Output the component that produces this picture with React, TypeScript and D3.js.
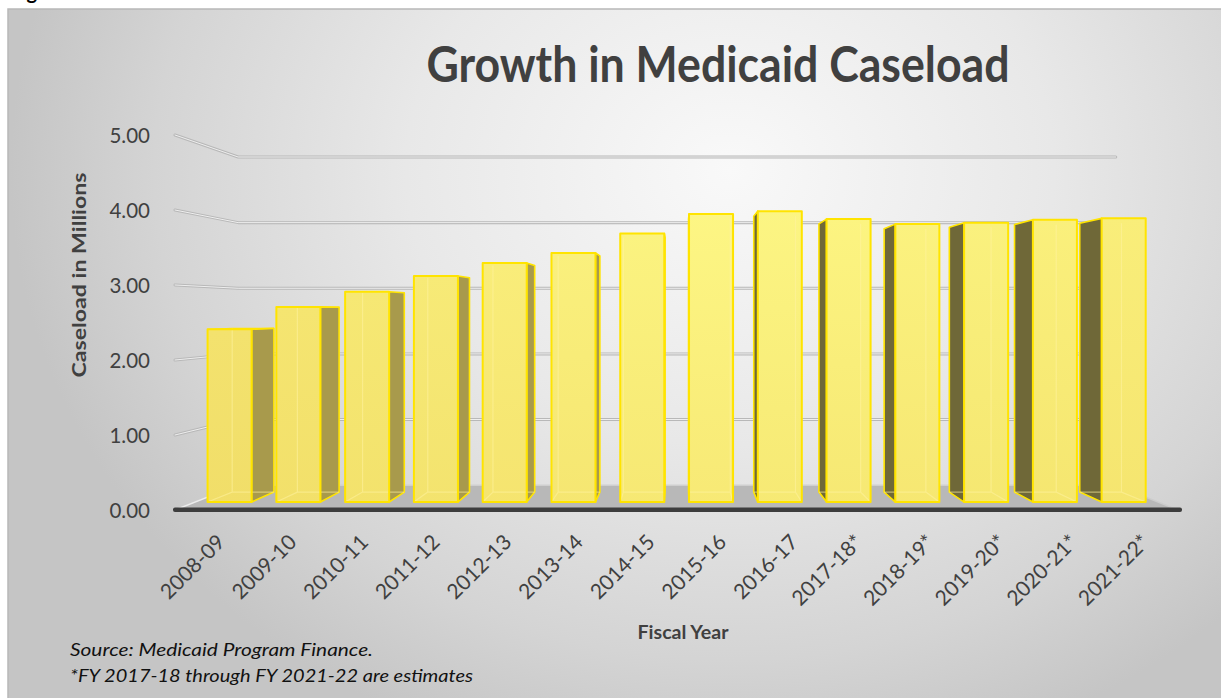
import React from 'react';
import * as d3 from 'd3';

const categories = ['2008-09', '2009-10', '2010-11', '2011-12', '2012-13', '2013-14', '2014-15', '2015-16', '2016-17', '2017-18*', '2018-19*', '2019-20*', '2020-21*', '2021-22*'];
const caseload = [2.40, 2.71, 2.92, 3.14, 3.32, 3.46, 3.73, 4.00, 4.04, 3.93, 3.86, 3.88, 3.92, 3.94];
const yTicks = [0, 1, 2, 3, 4, 5];
const title = 'Growth in Medicaid Caseload';
const yTitle = 'Caseload in Millions';
const xTitle = 'Fiscal Year';
const notes = ['Source: Medicaid Program Finance.', '*FY 2017-18 through FY 2021-22 are estimates'];

const W = 1221;
const H = 698;
const VX = 680;
const VY = 311;
const S_BACK = 0.875;
const S_BAR_F = 0.96;
const S_BAR_B = 0.91;

const x = d3.scaleBand<string>().domain(categories).range([175, 1178]).paddingInner(0.36).paddingOuter(0.18);
const y = d3.scaleLinear().domain([0, 5]).range([510, 135]);

const proj = (X: number, Y: number, s: number): [number, number] => [VX + s * (X - VX), VY + s * (Y - VY)];
const pts = (arr: [number, number][]) => arr.map(p => p[0].toFixed(2) + ',' + p[1].toFixed(2)).join(' ');

export default function App() {
  const X0 = 175, X1 = 1178, Y0 = y(0);
  const floor = [proj(X0, Y0, 1), proj(X1, Y0, 1), proj(X1, Y0, S_BACK), proj(X0, Y0, S_BACK)];
  const bw = x.bandwidth();
  const font = 'Lato, "Open Sans", sans-serif';

  return (
    <svg width={W} height={H} style={{ position: 'absolute', left: 0, top: 0 }} fontFamily={font}>
      <defs>
        <radialGradient id="bg" gradientUnits="userSpaceOnUse" cx={730} cy={170} r={720} gradientTransform="translate(730 170) scale(1 0.85) translate(-730 -170)">
          <stop offset="0" stopColor="#f9f9f9" />
          <stop offset="0.45" stopColor="#e8e8e8" />
          <stop offset="0.8" stopColor="#d4d4d4" />
          <stop offset="1" stopColor="#c5c5c5" />
        </radialGradient>
        {caseload.map((v, i) => {
          const c = categories[i];
          const cx = (x(c) as number) + bw / 2;
          const t = Math.min(1, Math.abs(cx - VX) / 480);
          const top = cx < VX ? d3.interpolateRgb('#fcf482', '#f3e26e')(t) : d3.interpolateRgb('#fdf785', '#f9ee7a')(t);
          const bot = d3.interpolateRgb(top, '#efda62')(0.45);
          return (
            <linearGradient key={c} id={'bar' + i} gradientUnits="userSpaceOnUse" x1={0} y1={y(v)} x2={0} y2={Y0}>
              <stop offset="0" stopColor={top} />
              <stop offset="1" stopColor={bot} />
            </linearGradient>
          );
        })}
      </defs>

      <text x={10} y={-1} fontSize={20} fontWeight="bold" fill="#000">Figure</text>
      <rect x={8} y={9} width={W} height={H} fill="url(#bg)" stroke="#b8b8b8" strokeWidth={1.5} />

      {/* floor */}
      <polygon points={pts(floor)} fill="#b8b8b8" />
      <line x1={floor[3][0]} y1={floor[3][1]} x2={floor[2][0]} y2={floor[2][1]} stroke="#cfcfcf" strokeWidth={1.5} />
      <line x1={floor[0][0]} y1={floor[0][1]} x2={floor[3][0]} y2={floor[3][1]} stroke="#ececec" strokeWidth={1.5} />
      <line x1={floor[1][0]} y1={floor[1][1]} x2={floor[2][0]} y2={floor[2][1]} stroke="#cccccc" strokeWidth={1.5} />

      {/* gridlines on back and left walls */}
      {yTicks.filter(v => v > 0).map(v => {
        const a = proj(X0, y(v), 1);
        const b = proj(X0, y(v), S_BACK);
        const c = proj(X1, y(v), S_BACK);
        const d = `M${a[0]},${a[1]}L${b[0]},${b[1]}L${c[0]},${c[1]}`;
        return (
          <g key={v}>
            <path d={d} fill="none" stroke="#b8b8b8" strokeWidth={3} strokeLinejoin="round" strokeLinecap="round" />
            <path d={d} fill="none" stroke="#eeeeee" strokeWidth={1} strokeLinejoin="round" strokeLinecap="round" />
          </g>
        );
      })}

      {/* bars */}
      {caseload.map((v, i) => {
        const c = categories[i];
        const bx0 = x(c) as number;
        const bx1 = bx0 + bw;
        const cx = bx0 + bw / 2;
        const yt = y(v);
        const front = [proj(bx0, yt, S_BAR_F), proj(bx1, yt, S_BAR_F), proj(bx1, Y0, S_BAR_F), proj(bx0, Y0, S_BAR_F)];
        const back = [proj(bx0, yt, S_BAR_B), proj(bx1, yt, S_BAR_B), proj(bx1, Y0, S_BAR_B), proj(bx0, Y0, S_BAR_B)];
        const sx = cx < VX ? bx1 : bx0;
        const side = [proj(sx, yt, S_BAR_F), proj(sx, yt, S_BAR_B), proj(sx, Y0, S_BAR_B), proj(sx, Y0, S_BAR_F)];
        const sideColor = cx < VX ? '#a89a4c' : '#6f6838';
        const showTop = yt > VY;
        const topFace = [front[0], front[1], back[1], back[0]];
        const hidden = cx < VX
          ? `M${back[0][0]},${back[0][1]}L${back[3][0]},${back[3][1]}L${back[2][0]},${back[2][1]}M${back[3][0]},${back[3][1]}L${front[3][0]},${front[3][1]}`
          : `M${back[1][0]},${back[1][1]}L${back[2][0]},${back[2][1]}L${back[3][0]},${back[3][1]}M${back[2][0]},${back[2][1]}L${front[2][0]},${front[2][1]}`;
        return (
          <g key={c}>
            <polygon points={pts(side)} fill={sideColor} stroke="#ffe400" strokeWidth={1.6} strokeLinejoin="round" />
            {showTop && <polygon points={pts(topFace)} fill="#f6e878" stroke="#ffe400" strokeWidth={1.2} />}
            <polygon points={pts(front)} fill={`url(#bar${i})`} />
            <path d={hidden} fill="none" stroke="#fff2a0" strokeOpacity={0.55} strokeWidth={1.2} />
            <polygon points={pts(front)} fill="none" stroke="#ffe400" strokeWidth={2} strokeLinejoin="round" />
          </g>
        );
      })}

      {/* floor front edge */}
      <rect x={173} y={507.5} width={1009} height={4.5} rx={2} fill="#3d3d3d" />

      {/* y tick labels */}
      {yTicks.map(v => (
        <text key={v} x={150} y={y(v)} textAnchor="end" dominantBaseline="central" fontSize={20.5} fill="#404040">
          {v.toFixed(2)}
        </text>
      ))}

      {/* x labels */}
      {categories.map(c => {
        const cx = (x(c) as number) + bw / 2;
        const off = c.endsWith('*') ? -2 : 5;
        return (
          <text key={c} transform={`translate(${cx + off},${533}) rotate(-45)`} textAnchor="end" dy="0.7em" fontSize={21} fill="#404040">
            {c}
          </text>
        );
      })}

      {/* titles */}
      <text x={718} y={82} textAnchor="middle" fontSize={49} fontWeight="bold" fill="#404040" textLength={583} lengthAdjust="spacingAndGlyphs">{title}</text>
      <text transform="translate(86,275) rotate(-90)" textAnchor="middle" fontSize={18} fontWeight="bold" fill="#404040" textLength={205} lengthAdjust="spacingAndGlyphs">{yTitle}</text>
      <text x={683} y={639} textAnchor="middle" fontSize={18} fontWeight="bold" fill="#404040" textLength={91} lengthAdjust="spacingAndGlyphs">{xTitle}</text>
      <text x={70} y={656} fontSize={17} fontStyle="italic" fill="#111" textLength={303} lengthAdjust="spacingAndGlyphs">{notes[0]}</text>
      <text x={70} y={682} fontSize={17} fontStyle="italic" fill="#111" textLength={403} lengthAdjust="spacingAndGlyphs">{notes[1]}</text>
    </svg>
  );
}
